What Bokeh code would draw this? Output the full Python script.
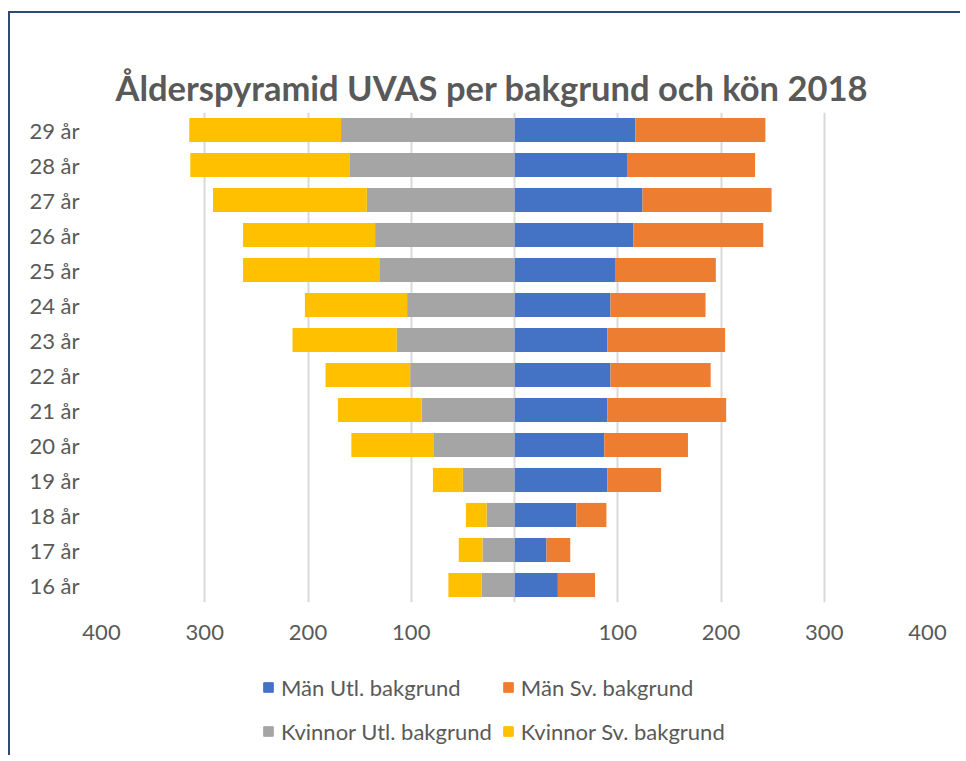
from bokeh.plotting import figure
from bokeh.models import (ColumnDataSource, FactorRange, FixedTicker, Legend, LegendItem,
                          Title, Range1d)
from bokeh.layouts import column
from bokeh.embed import file_html
from bokeh.resources import INLINE

# ---- data ----
ages = ["16 år", "17 år", "18 år", "19 år", "20 år", "21 år", "22 år",
        "23 år", "24 år", "25 år", "26 år", "27 år", "28 år", "29 år"]
man_utl = [42, 31, 60, 90, 87, 90, 93, 90, 93, 98, 115, 124, 109, 117]
man_sv = [36, 23, 29, 52, 81, 115, 97, 114, 92, 97, 126, 125, 124, 126]
kv_utl = [32, 31, 27, 50, 78, 90, 101, 114, 104, 131, 135, 143, 160, 168]
kv_sv = [32, 23, 20, 29, 80, 81, 82, 101, 99, 132, 128, 149, 154, 147]
series_names = ["Män Utl. bakgrund", "Män Sv. bakgrund",
                "Kvinnor Utl. bakgrund", "Kvinnor Sv. bakgrund"]
x_ticks = [-400, -300, -200, -100, 0, 100, 200, 300, 400]
title_text = "Ålderspyramid UVAS per bakgrund och kön 2018"

colors = ["#4472C4", "#ED7D31", "#A5A5A5", "#FFC000"]
FONT = "Lato"
TXT = "#595959"

src = ColumnDataSource(dict(
    age=ages, mu=man_utl, ms=man_sv,
    ku=[-v for v in kv_utl], ks=[-v for v in kv_sv],
))

p = figure(width=950, height=637, y_range=FactorRange(*ages), x_range=(-400, 400),
           output_backend="svg", toolbar_location=None, title=None,
           min_border_left=91, min_border_right=33, min_border_top=99, min_border_bottom=48)
p.outline_line_color = None

r_m = p.hbar_stack(["mu", "ms"], y="age", height=0.69, color=colors[:2], source=src,
                   line_color=None)
r_k = p.hbar_stack(["ku", "ks"], y="age", height=0.69, color=colors[2:], source=src,
                   line_color=None)

# axes
p.xaxis.ticker = FixedTicker(ticks=x_ticks)
p.xaxis.major_label_overrides = {t: ("" if t == 0 else str(abs(t))) for t in x_ticks}
p.xaxis.axis_line_color = None
p.xaxis.major_tick_line_color = None
p.xaxis.minor_tick_line_color = None
p.xaxis.major_label_standoff = 16
p.xaxis.major_label_text_font = FONT
p.xaxis.major_label_text_font_size = "22px"
p.xaxis.major_label_text_color = TXT

p.yaxis.axis_line_color = None
p.yaxis.major_tick_line_color = None
p.yaxis.minor_tick_line_color = None
p.yaxis.major_label_standoff = 16
p.yaxis.major_label_text_font = FONT
p.yaxis.major_label_text_font_size = "22px"
p.yaxis.major_label_text_color = TXT

p.xgrid.ticker = FixedTicker(ticks=x_ticks)
p.xgrid.grid_line_color = "#D9D9D9"
p.xgrid.grid_line_width = 2
p.ygrid.grid_line_color = None

# an invisible spacer panel next to the frame, then the real title above it
spacer = Title(text=".", text_font_size="1px", standoff=30, text_alpha=0)
p.add_layout(spacer, "above")
p.add_layout(Title(text=title_text, align="left", offset=14, standoff=10,
                   text_font=FONT, text_font_size="34.5px", text_font_style="bold",
                   text_color=TXT), "above")

# legend strip below the chart (swatches only; kept outside the visible range)
p2 = figure(width=950, height=105, x_range=Range1d(0, 1), y_range=Range1d(0, 1),
            output_backend="svg", toolbar_location=None,
            x_axis_location=None, y_axis_location=None, min_border=0)
p2.outline_line_color = None
p2.grid.visible = False
dummies = [p2.hbar(y=[-5], left=[-5], right=[-4], height=0.5, color=c) for c in colors]
items = [LegendItem(label=n, renderers=[r]) for n, r in zip(series_names, dummies)]
legend = Legend(items=items, orientation="horizontal", ncols=2,
                location=(161, 7), padding=0, margin=0, spacing=10,
                glyph_width=12, glyph_height=12, label_standoff=7,
                label_height=34, label_text_font=FONT, label_text_font_size="22px",
                label_text_color=TXT, border_line_color=None,
                background_fill_alpha=0)
p2.add_layout(legend)

layout = column(p, p2, spacing=0,
                styles={"margin-left": "8px", "margin-top": "11px",
                        "border-top": "2px solid #2F4A7A",
                        "border-left": "2px solid #2F4A7A"})

open("out.html", "w").write(file_html(layout, INLINE))
